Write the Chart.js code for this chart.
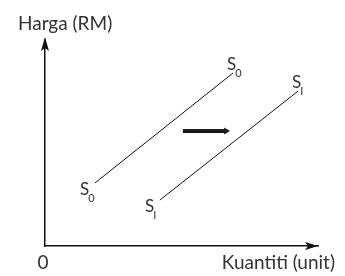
<!DOCTYPE html>
<html>
<head>
<meta charset="utf-8">
<script src="https://cdn.jsdelivr.net/npm/chart.js@4.4.0/dist/chart.umd.min.js"></script>
<style>
  html, body { margin: 0; padding: 0; background: #fff; }
  #wrap { width: 345px; height: 276px; }
</style>
</head>
<body>
<div id="wrap"><canvas id="chart"></canvas></div>
<script>
// supply curves (x = kuantiti, y = harga), arbitrary units 0..100
var s0X = [18.3, 68.9];
var s0Y = [30.6, 84.0];
var s1X = [42.1, 92.7];
var s1Y = [22.3, 75.2];
// shift arrow
var shiftX = [50.5, 67.8];
var shiftY = [55.8, 55.8];
var curveNames = ["S", "S"];
var curveSubs = ["0", "I"];
var yTitle = "Harga (RM)";
var xTitle = "Kuantiti (unit)";
var originLabel = "0";

var FONT = "Lato, 'Open Sans', sans-serif";
var TXT = "#333";

function pts(xs, ys) {
  return xs.map(function (x, i) { return { x: x, y: ys[i] }; });
}

function drawSub(ctx, x, y, main, sub) {
  ctx.font = "17px " + FONT;
  ctx.fillText(main, x, y);
  var w = ctx.measureText(main).width;
  ctx.font = "11px " + FONT;
  ctx.fillText(sub, x + w - 1, y + 7);
}

var extras = {
  id: "extras",
  afterDraw: function (chart) {
    var ctx = chart.ctx;
    var a = chart.chartArea;
    var sx = chart.scales.x, sy = chart.scales.y;
    ctx.save();
    ctx.fillStyle = "#111";
    // y axis arrowhead
    ctx.beginPath();
    ctx.moveTo(a.left, a.top - 3);
    ctx.lineTo(a.left + 4, a.top + 11);
    ctx.lineTo(a.left, a.top + 8);
    ctx.lineTo(a.left - 4, a.top + 11);
    ctx.closePath();
    ctx.fill();
    // x axis arrowhead
    ctx.beginPath();
    ctx.moveTo(a.right, a.bottom);
    ctx.lineTo(a.right - 13, a.bottom - 4);
    ctx.lineTo(a.right - 10, a.bottom);
    ctx.lineTo(a.right - 13, a.bottom + 4);
    ctx.closePath();
    ctx.fill();

    // shift arrow
    var ax0 = sx.getPixelForValue(shiftX[0]);
    var ax1 = sx.getPixelForValue(shiftX[1]);
    var ay = sy.getPixelForValue(shiftY[0]);
    ctx.fillStyle = "#1a1a1a";
    ctx.fillRect(ax0, ay - 2, ax1 - ax0 - 5, 4);
    ctx.beginPath();
    ctx.moveTo(ax1, ay);
    ctx.lineTo(ax1 - 6, ay - 3.5);
    ctx.lineTo(ax1 - 6, ay + 3.5);
    ctx.closePath();
    ctx.fill();

    // curve labels
    ctx.fillStyle = TXT;
    ctx.textBaseline = "alphabetic";
    ctx.textAlign = "left";
    var ends = [[s0X, s0Y], [s1X, s1Y]];
    ends.forEach(function (e, i) {
      var lx = sx.getPixelForValue(e[0][0]), ly = sy.getPixelForValue(e[1][0]);
      var hx = sx.getPixelForValue(e[0][1]), hy = sy.getPixelForValue(e[1][1]);
      drawSub(ctx, lx - 15, ly + 12, curveNames[i], curveSubs[i]);
      drawSub(ctx, hx - 6, hy - 3, curveNames[i], curveSubs[i]);
    });

    // axis texts
    ctx.font = "19px " + FONT;
    ctx.fillText(yTitle, 18, 30);
    ctx.textAlign = "center";
    ctx.fillText(originLabel, a.left - 2, 269);
    ctx.textAlign = "right";
    ctx.fillText(xTitle, 335, 269);
    ctx.restore();
  }
};

new Chart(document.getElementById("chart"), {
  type: "scatter",
  data: {
    datasets: [
      { data: pts(s0X, s0Y), showLine: true, borderColor: "#111", borderWidth: 1, pointRadius: 0 },
      { data: pts(s1X, s1Y), showLine: true, borderColor: "#111", borderWidth: 1, pointRadius: 0 }
    ]
  },
  options: {
    responsive: true,
    maintainAspectRatio: false,
    animation: false,
    events: [],
    layout: { padding: { left: 45, top: 40, right: 27, bottom: 30 } },
    plugins: { legend: { display: false }, tooltip: { enabled: false } },
    scales: {
      x: {
        min: 0, max: 100,
        grid: { display: false, drawTicks: false },
        ticks: { display: false },
        border: { display: true, color: "#111", width: 1.5 }
      },
      y: {
        min: 0, max: 100,
        grid: { display: false, drawTicks: false },
        ticks: { display: false },
        border: { display: true, color: "#111", width: 1.5 }
      }
    }
  },
  plugins: [extras]
});
</script>
</body>
</html>
